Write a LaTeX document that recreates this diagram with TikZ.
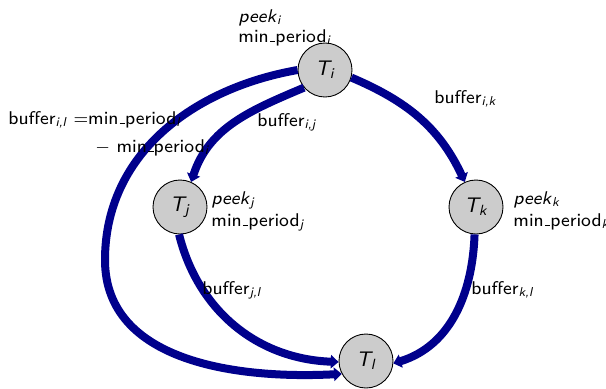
\documentclass[tikz,border=0pt]{standalone}
\usepackage{amsmath}
\usetikzlibrary{arrows.meta}
\definecolor{edgeblue}{RGB}{0,0,140}
\newcommand{\uscore}{\leavevmode\kern.06em\vbox{\hrule width.3em height .4pt}}
\begin{document}
\begin{tikzpicture}[x=0.45pt,y=0.45pt,font=\sffamily\fontsize{8.3}{10}\selectfont,
  task/.style={circle,draw,line width=0.4pt,fill=gray!40,minimum size=24.3pt,inner sep=0pt,font=\sffamily\fontsize{9.5}{11}\selectfont},
  flow/.style={draw=edgeblue,line width=3.6pt,-{Triangle[length=3.5pt,width=6pt]}},
  lbl/.style={inner sep=0pt,anchor=base west}]
\useasboundingbox (0,0) rectangle (606,388);
\node[task] (Ti) at (325,318) {$\textit{T}_{\textit{i}}$};
\node[task] (Tj) at (180,181) {$\textit{T}_{\textit{j}}$};
\node[task] (Tk) at (476,181) {$\textit{T}_{\textit{k}}$};
\node[task] (Tl) at (366,27) {$\textit{T}_{\textit{l}}$};
\coordinate (w) at (105,128);
\draw[flow] (Ti.220) to[out=203,in=72] (Tj.66);
\draw[flow] (Ti.-16) to[out=-23,in=115] (Tk.114);
\draw[flow] (Ti.180) to[out=190,in=90] (w) to[out=-90,in=183] (Tl.208);
\draw[flow] (Tj.-92) to[out=-76,in=178] (Tl.182);
\draw[flow] (Tk.-93) to[out=-92,in=17] (Tl.-5);
\node[lbl] (pi) at (238,366) {\textit{peek}$_{\textit{i}}$};
\node[lbl] (mi) at (238,346) {min\uscore period$_{\textit{i}}$};
\node[lbl] (pj) at (211,184) {\textit{peek}$_{\textit{j}}$};
\node[lbl] (mj) at (211,162) {min\uscore period$_{\textit{j}}$};
\node[lbl] (pk) at (513,184) {\textit{peek}$_{\textit{k}}$};
\node[lbl] (mk) at (513,162) {min\uscore period$_{\textit{k}}$};
\node[lbl] (bik) at (434,285) {buffer$_{\textit{i,k}}$};
\node[lbl] (bij) at (257,262) {buffer$_{\textit{i,j}}$};
\node[lbl] (bjl) at (202,94) {buffer$_{\textit{j,l}}$};
\node[lbl] (bkl) at (471,94) {buffer$_{\textit{k,l}}$};
\node[lbl] (bil) at (8,264) {buffer$_{\textit{i,l}}$ $=$min\uscore period$_{\textit{l}}$};
\node[lbl] (bil2) at (95,236) {$-$ min\uscore period$_{\textit{i}}$};
\end{tikzpicture}
\end{document}
